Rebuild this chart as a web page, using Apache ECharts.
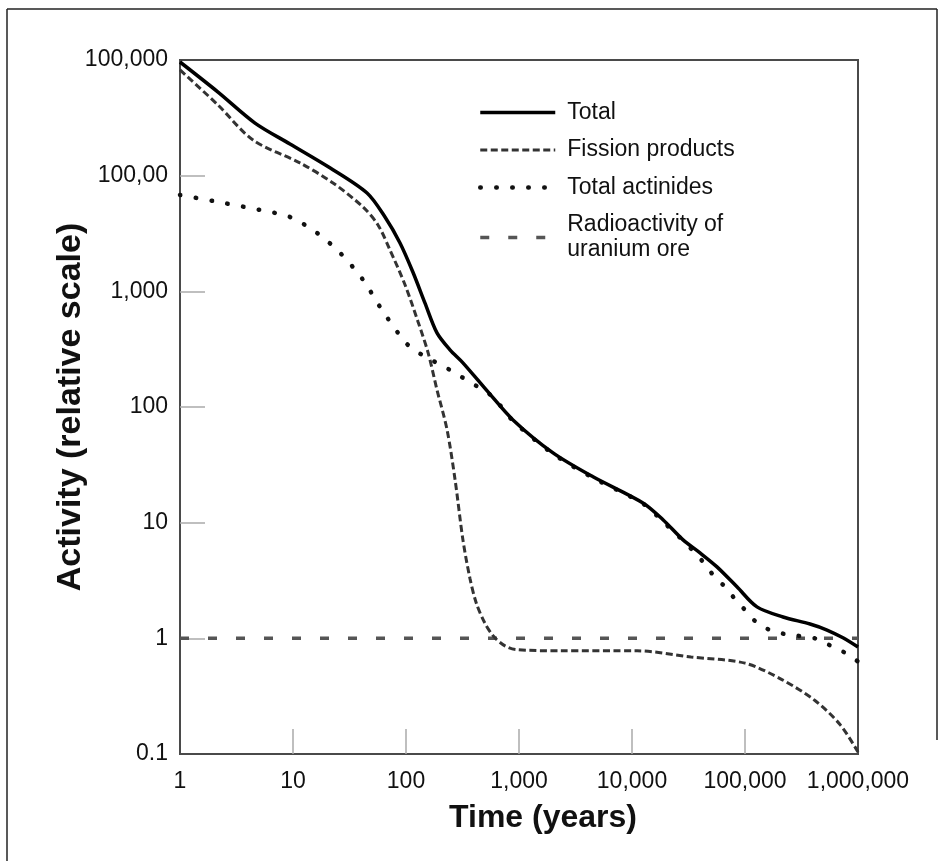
<!DOCTYPE html>
<html>
<head>
<meta charset="utf-8">
<script src="https://cdn.jsdelivr.net/npm/echarts@6/dist/echarts.min.js"></script>
<style>
html,body{margin:0;padding:0;background:#fff;}
#chart{width:943px;height:861px;}
</style>
</head>
<body>
<div id="chart"></div>
<script>
// ---- data (time in years, activity relative) ----
var seriesNames = ['Total', 'Fission products', 'Total actinides', 'Radioactivity of\nuranium ore'];

var totalData = [
  [1, 96100], [2.17, 52800], [4.61, 28500], [9.4, 18800], [21.2, 11700], [45.2, 7080],
  [65.2, 4390], [88.5, 2620], [115, 1470], [147, 795], [188, 437], [245, 312],
  [319, 241], [532, 135], [885, 77.3], [2000, 40.1], [4520, 24.9], [12500, 14.8],
  [18800, 10.6], [28300, 7.1], [40000, 5.48], [56500, 4.15], [84900, 2.79],
  [127600, 1.87], [217000, 1.53], [376000, 1.33], [532000, 1.18], [736000, 1.01],
  [1000000, 0.84]
];

var fissionData = [
  [1, 82000], [2.17, 40800], [4.43, 20300], [11.5, 12900], [22.6, 8650], [41.6, 5360],
  [56.5, 3750], [72.1, 2280], [98, 1140], [128, 544], [157, 294], [188, 141],
  [231, 63.4], [272, 23.4], [319, 7.1], [368, 3.3], [420, 2.0], [500, 1.35],
  [601, 1.03], [752, 0.86], [940, 0.80], [2310, 0.78], [11100, 0.78], [33300, 0.69],
  [100000, 0.61], [212000, 0.44], [416000, 0.29], [693000, 0.18], [1000000, 0.104]
];

var actinideData = [
  [1, 6810], [1.96, 6040], [5.1, 5050], [9.4, 4390], [16.3, 3200], [26.1, 2150],
  [41.6, 1260], [58.9, 733], [85, 437], [104, 344], [139, 282], [181, 245],
  [245, 209], [319, 179], [434, 149], [589, 122], [885, 75.8], [2000, 39.4],
  [4520, 24.4], [12500, 14.6], [18800, 10.2], [26600, 7.4], [34000, 5.82],
  [42500, 4.58], [52100, 3.54], [65200, 2.84], [80000, 2.24], [100000, 1.76],
  [125000, 1.39], [166000, 1.18], [226000, 1.09], [434000, 0.99], [577000, 0.86],
  [768000, 0.75], [1000000, 0.63]
];

var uraniumData = [[1, 1], [1000000, 1]];

var xTickLabels = ['1', '10', '100', '1,000', '10,000', '100,000', '1,000,000'];
var yTickLabels = ['0.1', '1', '10', '100', '1,000', '100,00', '100,000'];
var xInnerTicks = [10, 100, 1000, 10000, 100000];
var yInnerTicks = [1, 10, 100, 1000, 10000];

// ---- chart ----
var chart = echarts.init(document.getElementById('chart'), null, {renderer: 'canvas'});
var FONT = '"Liberation Sans", Arial, Helvetica, sans-serif';

var option = {
  backgroundColor: '#fff',
  animation: false,
  grid: {
    left: 180, right: 85, top: 60, bottom: 107,
    show: true, borderColor: '#4a4a4a', borderWidth: 2, backgroundColor: 'transparent'
  },
  legend: {
    orient: 'vertical',
    left: 478, top: 100, padding: 0,
    itemWidth: 75, itemHeight: 14, itemGap: 12.5,
    itemStyle: {opacity: 0},
    lineStyle: {width: 'inherit'},
    textStyle: {fontFamily: FONT, fontSize: 23, color: '#111', lineHeight: 25, padding: [0, 0, 0, 7]},
    data: seriesNames
  },
  xAxis: {
    type: 'log', logBase: 10, min: 1, max: 1000000,
    name: 'Time (years)', nameLocation: 'middle', nameGap: 48,
    nameTextStyle: {fontFamily: FONT, fontSize: 32, fontWeight: 'bold', color: '#111', padding: [0, 0, 0, 48]},
    axisLine: {show: true, lineStyle: {color: '#4a4a4a', width: 2}},
    axisTick: {show: true, inside: true, length: 25, customValues: xInnerTicks, lineStyle: {color: '#aaa', width: 1.5}},
    axisLabel: {
      fontFamily: FONT, fontSize: 23, color: '#111', margin: 16,
      formatter: function (v) { return xTickLabels[Math.round(Math.log10(v))]; }
    },
    splitLine: {show: false}
  },
  yAxis: {
    type: 'log', logBase: 10, min: 0.1, max: 100000,
    name: 'Activity (relative scale)', nameLocation: 'middle', nameGap: 92, nameRotate: 90,
    nameMoveOverlap: false,
    nameTextStyle: {fontFamily: FONT, fontSize: 34, fontWeight: 'bold', color: '#111'},
    axisLine: {show: true, lineStyle: {color: '#4a4a4a', width: 2}},
    axisTick: {show: true, inside: true, length: 25, customValues: yInnerTicks, lineStyle: {color: '#aaa', width: 1.5}},
    axisLabel: {
      fontFamily: FONT, fontSize: 23, color: '#111', margin: 12,
      formatter: function (v) { return yTickLabels[Math.round(Math.log10(v)) + 1]; }
    },
    splitLine: {show: false}
  },
  graphic: [
    {type: 'line', shape: {x1: 7, y1: 9, x2: 937, y2: 9}, style: {stroke: '#222', lineWidth: 1.5}},
    {type: 'line', shape: {x1: 7, y1: 9, x2: 7, y2: 861}, style: {stroke: '#222', lineWidth: 1.5}},
    {type: 'line', shape: {x1: 937, y1: 9, x2: 937, y2: 740}, style: {stroke: '#222', lineWidth: 1.5}}
  ],
  series: [
    {
      name: seriesNames[3], type: 'line', data: uraniumData, symbol: 'none', z: 2,
      itemStyle: {color: '#555'},
      lineStyle: {color: '#555', width: 3.5, type: [9, 19]}
    },
    {
      name: seriesNames[1], type: 'line', data: fissionData, symbol: 'none', z: 3,
      smooth: 0.3,
      itemStyle: {color: '#333'},
      lineStyle: {color: '#333', width: 3, type: [7, 3.5]}
    },
    {
      name: seriesNames[2], type: 'line', data: actinideData, symbol: 'none', z: 4,
      smooth: 0.3,
      itemStyle: {color: '#111'},
      lineStyle: {color: '#111', width: 4.5, type: [0.5, 15.5], cap: 'round'}
    },
    {
      name: seriesNames[0], type: 'line', data: totalData, symbol: 'none', z: 5,
      smooth: 0.3,
      itemStyle: {color: '#000'},
      lineStyle: {color: '#000', width: 3.5, type: 'solid'}
    }
  ]
};
chart.setOption(option);
</script>
</body>
</html>
